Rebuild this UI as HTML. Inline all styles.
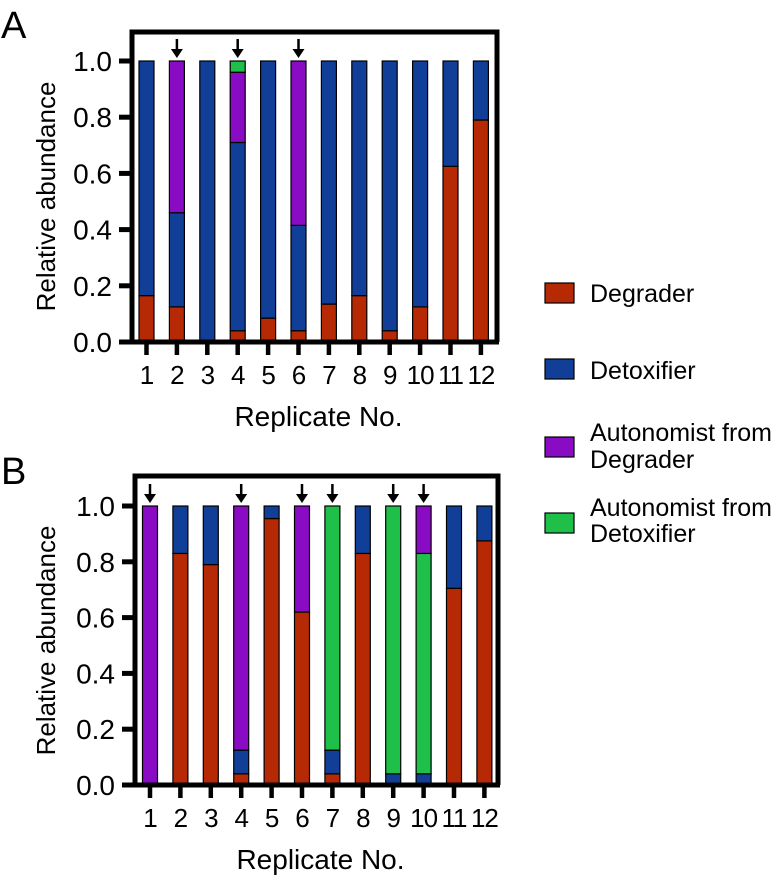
<!DOCTYPE html>
<html><head><meta charset="utf-8"><style>
body{margin:0;background:#fff}
svg{display:block;font-family:"Liberation Sans",Arial,sans-serif}
</style></head><body>
<svg id="fig" width="783" height="882" viewBox="0 0 783 882">
<text x="1" y="38" font-size="38">A</text>
<text x="1" y="484" font-size="38">B</text>
<g id="legend"></g>
</svg>
<script>
const categories = ["1","2","3","4","5","6","7","8","9","10","11","12"];
const yTicks = [0,0.2,0.4,0.6,0.8,1.0];
const yTickLabels = ["0.0","0.2","0.4","0.6","0.8","1.0"];
const seriesNames = ["Degrader","Detoxifier","Autonomist from Degrader","Autonomist from Detoxifier"];
const colors = ["#b52a05","#113f97","#8a0bc4","#1ec04a"];
// Panel A values
const aDegrader   = [0.165,0.125,0,0.04,0.085,0.04,0.135,0.165,0.04,0.125,0.625,0.79];
const aDetoxifier = [0.835,0.335,1,0.67,0.915,0.375,0.865,0.835,0.96,0.875,0.375,0.21];
const aAutoDeg    = [0,0.54,0,0.25,0,0.585,0,0,0,0,0,0];
const aAutoDet    = [0,0,0,0.04,0,0,0,0,0,0,0,0];
const aArrows     = [0,1,0,1,0,1,0,0,0,0,0,0];
// Panel B values
const bDegrader   = [0,0.83,0.79,0.04,0.955,0.62,0.04,0.83,0,0,0.705,0.875];
const bDetoxifier = [0,0.17,0.21,0.085,0.045,0,0.085,0.17,0.04,0.04,0.295,0.125];
const bAutoDeg    = [1,0,0,0.875,0,0.38,0,0,0,0.17,0,0];
const bAutoDet    = [0,0,0,0,0,0,0.875,0,0.96,0.79,0,0];
const bArrows     = [1,0,0,1,0,1,1,0,1,1,0,0];

const NS="http://www.w3.org/2000/svg";
const svg=document.getElementById('fig');
function mk(tag,attrs,parent){const e=document.createElementNS(NS,tag);for(const k in attrs)e.setAttribute(k,attrs[k]);(parent||svg).appendChild(e);return e;}

function panel(p){
  const g=mk('g',{});
  
  
  const y=v=>p.y0-v*(p.y0-p.y1);
  const x=i=>p.xFirst+i*p.step;
  const series=[p.d1,p.d2,p.d3,p.d4];
  categories.forEach((c,i)=>{
    let acc=0;
    p.order.forEach(k=>{
      const v=series[k][i]; if(v<=0)return;
      const r=mk('rect',{x:x(i)-7.5,y:y(acc+v),width:15,height:y(acc)-y(acc+v),fill:colors[k],stroke:'#000','stroke-width':1.2},g);
      
      
      acc+=v;
    });
    if(p.arrows[i]){
      const a=mk('g',{},g);
      
      
      mk('line',{x1:x(i),y1:y(1)-22,x2:x(i),y2:y(1)-8,stroke:'#000','stroke-width':2.5},a);
      mk('path',{d:`M${x(i)-6} ${y(1)-12} L${x(i)+6} ${y(1)-12} L${x(i)} ${y(1)-3} Z`,fill:'#000'},a);
    }
    const t=mk('line',{x1:x(i),y1:p.y0,x2:x(i),y2:p.y0+13,stroke:'#000','stroke-width':4.5},g);
    
    
    const tl=mk('text',{x:x(i),y:p.y0+42,'font-size':26,'text-anchor':'middle','letter-spacing':'-1'},g);
    tl.textContent=c;
    
    
  });
  const f=mk('path',{d:`M${p.left} ${p.y0} L${p.left} ${p.top} L${p.right} ${p.top} L${p.right} ${p.y0}`,fill:'none',stroke:'#000','stroke-width':5},g);
  
  
  const xa=mk('line',{x1:p.left-12,y1:p.y0,x2:p.right+2,y2:p.y0,stroke:'#000','stroke-width':5},g);
  
  
  yTicks.forEach((v,j)=>{
    const t=mk('line',{x1:p.left-13,y1:y(v),x2:p.left,y2:y(v),stroke:'#000','stroke-width':5},g);
    
    
    const tl=mk('text',{x:p.left-20,y:y(v)+10,'font-size':28,'text-anchor':'end'},g);
    tl.textContent=yTickLabels[j];
    
    
  });
  const yt=mk('text',{x:0,y:0,'font-size':26,'text-anchor':'middle',transform:`translate(55 ${(p.y0+p.y1)/2-5}) rotate(-90)`},g);
  yt.textContent='Relative abundance';
  
  
  const xt=mk('text',{x:(p.left+p.right)/2+4,y:p.y0+84,'font-size':28,'text-anchor':'middle'},g);
  xt.textContent='Replicate No.';
  
  
}
panel({key:'a',name:'panel-a-chart',y0:342,y1:61,top:32,left:132,right:497,xFirst:146.5,step:30.4,d1:aDegrader,d2:aDetoxifier,d3:aAutoDeg,d4:aAutoDet,arrows:aArrows,order:[0,1,2,3]});
panel({key:'b',name:'panel-b-chart',y0:785,y1:506,top:476,left:135,right:498,xFirst:150,step:30.4,d1:bDegrader,d2:bDetoxifier,d3:bAutoDeg,d4:bAutoDet,arrows:bArrows,order:[0,1,3,2]});

const lg=document.getElementById('legend');
const legY=[[283,[302]],[359,[379]],[437,[441,468]],[513,[516,542]]];
const legText=[["Degrader"],["Detoxifier"],["Autonomist from","Degrader"],["Autonomist from","Detoxifier"]];
seriesNames.forEach((n,k)=>{
  const e=mk('g',{},lg);
  
  
  mk('rect',{x:545,y:legY[k][0],width:29,height:20,fill:colors[k],stroke:'#000','stroke-width':1.2},e);
  legText[k].forEach((s,j)=>{
    const t=mk('text',{x:590,y:legY[k][1][j],'font-size':25},e);
    t.textContent=s;
  });
});
</script>
</body></html>
